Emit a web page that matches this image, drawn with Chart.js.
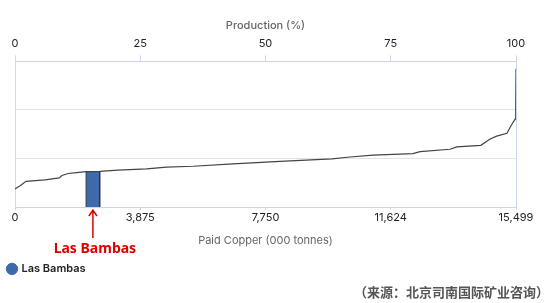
<!DOCTYPE html>
<html>
<head>
<meta charset="utf-8">
<script src="https://cdn.jsdelivr.net/npm/chart.js@4"></script>
<style>
  html, body { margin: 0; padding: 0; background: #fff; }
  .chart-parent { position: relative; width: 549px; height: 303px; }
</style>
</head>
<body>
<div class="chart-parent">
  <canvas id="myChart"></canvas>
</div>
<script>
// cumulative paid copper (000 t) and relative cost of the curve
const cumTonnes = [0, 120, 180, 340, 930, 1370, 1450, 1650, 1910, 2200, 2620, 3190, 4070, 4690, 5510, 6740, 8200, 9810, 10360, 11080, 12310, 12530, 13460, 13670, 14410, 14700, 14900, 15220, 15340, 15470, 15490, 15499];
const unitCost = [0.37, 0.42, 0.45, 0.53, 0.56, 0.60, 0.65, 0.69, 0.71, 0.73, 0.735, 0.76, 0.785, 0.82, 0.84, 0.89, 0.94, 0.99, 1.03, 1.07, 1.10, 1.14, 1.19, 1.24, 1.27, 1.40, 1.46, 1.52, 1.67, 1.81, 1.99, 2.85];

// highlighted mine
const mineName = ['Las Bambas'];
const mineStart = [2200];
const mineEnd = [2620];
const mineCost = [0.73];

const xTicks = [0, 3875, 7750, 11624, 15499];
const pctTicks = [0, 25, 50, 75, 100];

const curve = cumTonnes.map((x, i) => ({ x: x, y: unitCost[i] }));
const mineBox = [
  { x: mineStart[0], y: 0 },
  { x: mineStart[0], y: mineCost[0] },
  { x: mineEnd[0], y: mineCost[0] },
  { x: mineEnd[0], y: 0 }
];

const axisColor = '#ccd6eb';
const mineColor = '#3e6aa9';

const arrowPlugin = {
  id: 'arrowLabel',
  afterDraw(chart) {
    const { ctx, scales, chartArea } = chart;
    const cx = scales.x.getPixelForValue((mineStart[0] + mineEnd[0]) / 2);
    const top = chartArea.bottom + 3;
    const bottom = 238;
    ctx.save();
    ctx.strokeStyle = '#e00000';
    ctx.lineWidth = 1.5;
    ctx.beginPath();
    ctx.moveTo(cx, bottom);
    ctx.lineTo(cx, top);
    ctx.moveTo(cx - 4, top + 6);
    ctx.lineTo(cx, top);
    ctx.lineTo(cx + 4, top + 6);
    ctx.stroke();
    ctx.fillStyle = '#e00000';
    ctx.font = 'bold 14px "Noto Sans", sans-serif';
    ctx.textAlign = 'center';
    ctx.textBaseline = 'middle';
    ctx.fillText(mineName[0], cx + 2, 249);
    ctx.restore();
  }
};

const ctx = document.getElementById('myChart');

const myChart = new Chart(ctx, {
  type: 'line',
  data: {
    datasets: [
      {
        label: 'Cost curve',
        data: curve,
        borderColor: '#444',
        borderWidth: 1.2,
        pointRadius: 0,
        fill: false,
        tension: 0,
        order: 0
      },
      {
        label: mineName[0],
        data: mineBox,
        borderColor: '#1f3354',
        backgroundColor: mineColor,
        borderWidth: 1,
        pointRadius: 0,
        pointStyle: 'circle',
        fill: 'origin',
        tension: 0,
        order: 1
      }
    ]
  },
  plugins: [arrowPlugin],
  options: {
    responsive: true,
    maintainAspectRatio: false,
    animation: false,
    layout: { padding: { top: 19, left: 0, right: 0, bottom: 3 } },
    plugins: {
      tooltip: { enabled: false },
      legend: {
        position: 'bottom',
        align: 'start',
        labels: {
          usePointStyle: true,
          pointStyle: 'circle',
          boxWidth: 8,
          boxHeight: 8,
          padding: 8,
          color: '#222',
          font: { family: 'Inter, Roboto, sans-serif', size: 11, weight: '600' },
          filter: item => item.text === mineName[0],
          generateLabels: chart => Chart.defaults.plugins.legend.labels.generateLabels(chart)
            .map(l => Object.assign(l, { strokeStyle: mineColor, fillStyle: mineColor }))
        }
      },
      subtitle: {
        display: true,
        position: 'bottom',
        align: 'end',
        text: '（来源：北京司南国际矿业咨询）',
        color: '#555',
        font: { family: '"Noto Sans CJK SC", sans-serif', size: 13, weight: 'bold' },
        padding: { top: 0, bottom: 0 }
      }
    },
    scales: {
      x: {
        type: 'linear',
        position: 'bottom',
        min: 0,
        max: 15499,
        afterBuildTicks: s => { s.ticks = xTicks.map(v => ({ value: v })); },
        ticks: {
          color: '#222',
          font: { family: 'Inter, Roboto, sans-serif', size: 11 },
          padding: 1,
          maxRotation: 0,
          callback: v => v.toLocaleString('en-US')
        },
        grid: { drawOnChartArea: false, color: axisColor, tickLength: 3 },
        border: { color: axisColor },
        title: {
          display: true,
          text: 'Paid Copper (000 tonnes)',
          color: '#666',
          font: { family: 'Inter, Roboto, sans-serif', size: 11 },
          padding: { top: 9, bottom: 8 }
        }
      },
      x2: {
        type: 'linear',
        position: 'top',
        min: 0,
        max: 100,
        afterBuildTicks: s => { s.ticks = pctTicks.map(v => ({ value: v })); },
        ticks: {
          color: '#222',
          font: { family: 'Inter, Roboto, sans-serif', size: 11 },
          padding: 5,
          maxRotation: 0
        },
        grid: { drawOnChartArea: false, color: axisColor, tickLength: 6 },
        border: { color: axisColor },
        title: {
          display: true,
          text: 'Production (%)',
          color: '#666',
          font: { family: 'Inter, Roboto, sans-serif', size: 11, weight: '500' },
          padding: { top: 0, bottom: 0 }
        }
      },
      y: {
        type: 'linear',
        position: 'left',
        min: 0,
        max: 3,
        ticks: { display: false, stepSize: 1 },
        grid: { color: '#e3e3e3', drawTicks: false },
        border: { color: '#d8d8d8' },
        afterFit: s => { s.width = 15; }
      },
      y2: {
        type: 'linear',
        position: 'right',
        min: 0,
        max: 3,
        ticks: { display: false },
        grid: { display: false, drawTicks: false },
        border: { color: axisColor },
        afterFit: s => { s.width = 33; }
      }
    }
  }
});
</script>
</body>
</html>
